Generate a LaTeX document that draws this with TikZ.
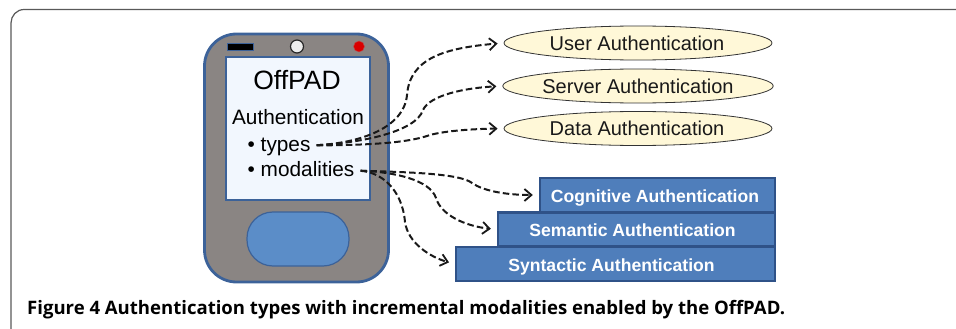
\documentclass[tikz,border=0pt]{standalone}
\usepackage{fontspec}
\setmainfont{Liberation Sans}
\newfontfamily\capfont{Open Sans}
\usepackage{tikz}
\usetikzlibrary{arrows.meta, shapes.geometric}
\definecolor{phonegray}{HTML}{8A8583}
\definecolor{phoneblue}{HTML}{3C6299}
\definecolor{screenblue}{HTML}{F2F7FE}
\definecolor{buttonblue}{HTML}{5B8DC8}
\definecolor{authyellow}{HTML}{FFF8D8}
\definecolor{stepblue}{HTML}{4F7EBB}
\definecolor{stepedge}{HTML}{2F5288}
\tikzset{
  every picture/.style={x=1pt,y=-1pt},
  screentext/.style={inner sep=0pt,text height=15pt,text depth=4pt,font=\fontsize{20.8}{24}\selectfont},
  authtype/.style={ellipse,draw=black!80,fill=authyellow,line width=0.8pt,minimum width=268pt,minimum height=34pt,inner sep=0pt,text height=14.5pt,text depth=0pt,font=\fontsize{20}{24}\selectfont,text=black!90},
  authstep/.style={rectangle,draw=stepedge,fill=stepblue,line width=2.4pt,minimum height=34pt,inner sep=0pt,text height=14.6pt,text depth=0pt,text=white,font=\fontsize{17.6}{21}\bfseries\selectfont},
  link/.style={draw=black!90,line width=2pt,dash pattern=on 6.5pt off 3.2pt,-{Straight Barb[length=7pt,width=12pt,line width=1.8pt]},shorten <=6pt,shorten >=6pt}
}

\begin{document}
\begin{tikzpicture}
        \useasboundingbox (0, 0) rectangle (956, 329);
        % frame
        \draw[draw=black!65, line width=1.2pt] (956, 9.5) -- (24, 9.5) to[out=180, in=90] (11, 23) -- (11, 329);

        % phone
        \node[draw=phoneblue, fill=phonegray, rectangle, rounded corners=32pt, line width=2.8pt, minimum width=184pt, minimum height=248pt] (phone) at (296.5, 158) {};
        \node[draw=phoneblue, fill=screenblue, rectangle, line width=1.2pt, minimum width=144pt, minimum height=143pt] (screen) at (298, 128.5) {};
        \node[draw=phoneblue, fill=buttonblue, rectangle, rounded corners=26pt, line width=1.2pt, minimum width=102pt, minimum height=54pt] (button) at (298, 239) {};
        \node[draw=phoneblue, fill=black, rectangle, line width=1pt, minimum width=26pt, minimum height=7pt, inner sep=0pt] (speaker) at (240, 47) {};
        \node[draw=black!85, fill=black!7, circle, line width=1.2pt, minimum size=13pt, inner sep=0pt] (camera) at (297, 46.5) {};
        \node[draw=phonegray!60!red, fill=red!85!black, circle, line width=0.5pt, minimum size=11pt, inner sep=0pt] (led) at (359, 46.5) {};

        % screen text
        \node[inner sep=0pt, font=\fontsize{26.5}{30}\selectfont] (title) at (297, 80.5) {OffPAD};
        \node[screentext] (auth) at (298, 119) {Authentication};
        \node[screentext, anchor=west] (types) at (247.5, 145.5) {\textbullet\ types};
        \node[screentext, anchor=west] (modalities) at (247.5, 170.5) {\textbullet\ modalities};

        % authentication types
        \node[authtype] (user) at (638, 43) {\hspace*{-2pt}User Authentication};
        \node[authtype] (server) at (638, 86) {Server Authentication};
        \node[authtype] (data) at (638, 128.5) {\hspace*{-2pt}Data Authentication};

        % modalities
        \node[authstep, minimum width=319pt] (syntactic) at (615.5, 264) {\hspace*{-8pt}Syntactic Authentication};
        \node[authstep, minimum width=277pt] (semantic) at (636.5, 229.5) {\hspace*{-8pt}Semantic Authentication};
        \node[authstep, minimum width=235pt] (cognitive) at (657.5, 195) {\hspace*{-5pt}Cognitive Authentication};

        % connectors
        \draw[link] (types.east) .. controls (360, 143) and (404, 128) .. (407, 95) .. controls (410, 58) and (445, 48) .. (user.west);
        \draw[link] (types.east) .. controls (360, 143) and (416, 132) .. (423, 110) .. controls (430, 95) and (465, 88) .. (server.west);
        \draw[link] (types.east) .. controls (360, 145) and (405, 144) .. (430, 135) .. controls (445, 131) and (470, 129) .. (data.west);
        \draw[link] (modalities.east) .. controls (400, 172) and (460, 173) .. (472, 183) .. controls (485, 192) and (510, 195) .. (cognitive.west);
        \draw[link] (modalities.east) .. controls (395, 172) and (430, 180) .. (436, 198) .. controls (441, 215) and (465, 226) .. (semantic.west);
        \draw[link] (modalities.east) .. controls (380, 172) and (402, 188) .. (405, 222) .. controls (408, 243) and (430, 257) .. (syntactic.west);

        % caption
        \node[inner sep=0pt, anchor=west, font=\capfont\fontsize{18.55}{22}\bfseries\selectfont] (caption) at (27, 310) {Figure 4 Authentication types with incremental modalities enabled by the OffPAD.};
      \end{tikzpicture}
\end{document}
